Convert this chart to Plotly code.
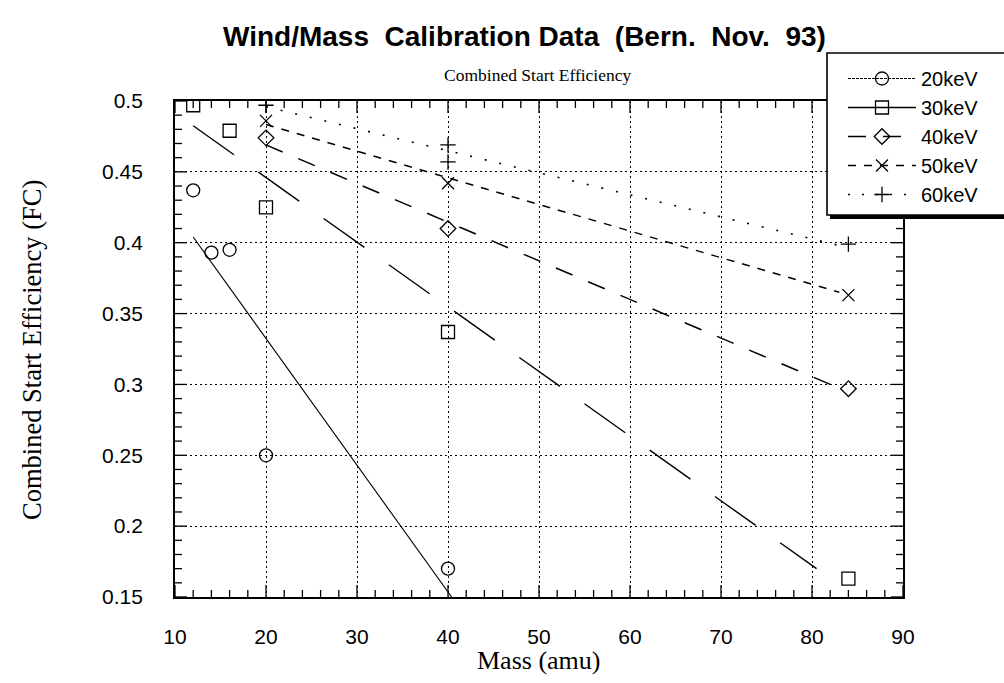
import plotly.graph_objects as go

# ---------------- data ----------------
mass_20 = [12, 14, 16, 20, 40]
eff_20 = [0.437, 0.393, 0.395, 0.250, 0.170]
mass_30 = [12, 16, 20, 40, 84]
eff_30 = [0.497, 0.479, 0.425, 0.337, 0.163]
mass_40 = [20, 40, 84]
eff_40 = [0.474, 0.410, 0.297]
mass_50 = [20, 40, 84]
eff_50 = [0.486, 0.442, 0.363]
mass_60 = [20, 40, 40, 84]
eff_60 = [0.497, 0.469, 0.457, 0.399]

# fitted lines (end points)
fit_20_x = [12, 40.4]
fit_20_y = [0.404, 0.150]
fit_30_x = [12, 80.5]
fit_30_y = [0.4825, 0.170]
fit_40_x = [20, 82]
fit_40_y = [0.469, 0.300]
fit_50_x = [20, 83]
fit_50_y = [0.4834, 0.365]
fit_60_x = [20, 83]
fit_60_y = [0.496, 0.398]

series_names = ["20keV", "30keV", "40keV", "50keV", "60keV"]

x_tick_vals = [10, 20, 30, 40, 50, 60, 70, 80, 90]
x_tick_text = ["10", "20", "30", "40", "50", "60", "70", "80", "90"]
y_tick_vals = [0.15, 0.2, 0.25, 0.3, 0.35, 0.4, 0.45, 0.5]
y_tick_text = ["0.15", "0.2", "0.25", "0.3", "0.35", "0.4", "0.45", "0.5"]
x_minor_vals = [12, 14, 16, 18, 22, 24, 26, 28, 32, 34, 36, 38, 42, 44, 46, 48,
                52, 54, 56, 58, 62, 64, 66, 68, 72, 74, 76, 78, 82, 84, 86, 88]
y_minor_vals = [0.16, 0.17, 0.18, 0.19, 0.21, 0.22, 0.23, 0.24, 0.26, 0.27, 0.28,
                0.29, 0.31, 0.32, 0.33, 0.34, 0.36, 0.37, 0.38, 0.39, 0.41, 0.42,
                0.43, 0.44, 0.46, 0.47, 0.48, 0.49]
x_range = [10, 90]
y_range = [0.15, 0.5]

# ---------------- styling ----------------
SANS = "Liberation Sans, Arial, Helvetica, sans-serif"
SERIF = "Liberation Serif, Times New Roman, serif"

styles = [
    dict(symbol="circle-open", size=13, dash="3px,1px", width=1.1),
    dict(symbol="square-open", size=13, dash="solid", width=1.4),
    dict(symbol="diamond-open", size=12, dash="18px,17px", width=1.5),
    dict(symbol="x-thin-open", size=12, dash="8px,8px", width=1.5),
    dict(symbol="cross-thin-open", size=11, dash="2px,12px", width=1.6),
]
plot_dash = ["solid", "50px,30px", "18px,17px", "8px,8px", "2px,13px"]

masses = [mass_20, mass_30, mass_40, mass_50, mass_60]
effs = [eff_20, eff_30, eff_40, eff_50, eff_60]
fits_x = [fit_20_x, fit_30_x, fit_40_x, fit_50_x, fit_60_x]
fits_y = [fit_20_y, fit_30_y, fit_40_y, fit_50_y, fit_60_y]

fig = go.Figure()

for i, name in enumerate(series_names):
    st = styles[i]
    fig.add_trace(go.Scatter(
        x=fits_x[i], y=fits_y[i], mode="lines",
        line=dict(color="black", width=st["width"], dash=plot_dash[i]),
        showlegend=False, hoverinfo="skip"))
    fig.add_trace(go.Scatter(
        x=masses[i], y=effs[i], mode="markers",
        marker=dict(symbol=st["symbol"], size=st["size"], color="black",
                    line=dict(color="black", width=1.3)),
        showlegend=False, name=name))
    fig.add_trace(go.Scatter(
        x=[None], y=[None], mode="lines+markers", name=name,
        line=dict(color="black", width=st["width"], dash=st["dash"]),
        marker=dict(symbol=st["symbol"], size=st["size"], color="black",
                    line=dict(color="black", width=1.3))))

L, R, T, B = 175, 101, 101, 86
W, H = 1004, 683
pw, ph = W - L - R, H - T - B


def px(xpix):
    return (xpix - L) / pw


def py(ypix):
    return (H - B - ypix) / ph


tickfont = dict(family=SANS, size=21, color="black")

# axes: grid, frame and labels (transparent outside ticks set label distance)
fig.update_layout(
    xaxis=dict(
        range=x_range, tickmode="array", tickvals=x_tick_vals, ticktext=x_tick_text,
        ticks="outside", ticklen=20, tickcolor="rgba(0,0,0,0)",
        showline=True, linecolor="black", linewidth=1.8, mirror=True,
        showgrid=True, gridcolor="black", gridwidth=1, griddash="2px,3px",
        zeroline=False, tickfont=tickfont),
    yaxis=dict(
        range=y_range, tickmode="array", tickvals=y_tick_vals, ticktext=y_tick_text,
        ticks="outside", ticklen=26, tickcolor="rgba(0,0,0,0)",
        showline=True, linecolor="black", linewidth=1.8, mirror=True,
        showgrid=True, gridcolor="black", gridwidth=1, griddash="2px,3px",
        zeroline=False, tickfont=tickfont),
)

# inside tick marks on all four sides, placed through the axis scales
MAJOR_LEN, MINOR_LEN = 12, 7
tick_line = dict(color="black", width=1.3)
for vals, ln in ((x_tick_vals, MAJOR_LEN), (x_minor_vals, MINOR_LEN)):
    for v in vals:
        fig.add_shape(type="line", xref="x", yref="y domain",
                      x0=v, x1=v, y0=0, y1=ln / ph, line=tick_line)
        fig.add_shape(type="line", xref="x", yref="y domain",
                      x0=v, x1=v, y0=1, y1=1 - ln / ph, line=tick_line)
for vals, ln in ((y_tick_vals, MAJOR_LEN), (y_minor_vals, MINOR_LEN)):
    for v in vals:
        fig.add_shape(type="line", xref="x domain", yref="y",
                      x0=0, x1=ln / pw, y0=v, y1=v, line=tick_line)
        fig.add_shape(type="line", xref="x domain", yref="y",
                      x0=1, x1=1 - ln / pw, y0=v, y1=v, line=tick_line)

# legend box with shadow
fig.add_shape(type="rect", xref="paper", yref="paper",
              x0=px(830), x1=px(1012), y0=py(219), y1=py(56),
              line=dict(color="black", width=0), fillcolor="black", layer="above")
fig.add_shape(type="rect", xref="paper", yref="paper",
              x0=px(827), x1=px(1008), y0=py(215), y1=py(53),
              line=dict(color="black", width=1.6), fillcolor="white", layer="above")

fig.update_layout(
    width=W, height=H,
    margin=dict(l=L, r=R, t=T, b=B, autoexpand=False),
    paper_bgcolor="white", plot_bgcolor="white",
    showlegend=True,
    legend=dict(
        x=px(843), y=py(59), xanchor="left", yanchor="top",
        bgcolor="rgba(0,0,0,0)", borderwidth=0,
        font=dict(family=SANS, size=20, color="black"),
        itemwidth=68, tracegroupgap=0,
    ),
    annotations=[
        dict(text="Wind/Mass\u00a0\u00a0Calibration\u00a0Data\u00a0\u00a0(Bern.\u00a0\u00a0Nov.\u00a0\u00a093)",
             xref="paper", yref="paper", x=px(524), y=py(37),
             xanchor="center", yanchor="middle", showarrow=False,
             font=dict(family=SANS, size=28, color="black", weight="bold")),
        dict(text="Combined Start Efficiency",
             xref="paper", yref="paper", x=px(538), y=py(75),
             xanchor="center", yanchor="middle", showarrow=False,
             font=dict(family=SERIF, size=17.5, color="black")),
        dict(text="Mass (amu)",
             xref="paper", yref="paper", x=px(538), y=py(660),
             xanchor="center", yanchor="middle", showarrow=False,
             font=dict(family=SERIF, size=26, color="black")),
        dict(text="Combined Start Efficiency (FC)",
             xref="paper", yref="paper", x=px(32), y=py(350),
             xanchor="center", yanchor="middle", showarrow=False, textangle=-90,
             font=dict(family=SERIF, size=26.5, color="black")),
    ],
)

fig.write_html("out.html")
